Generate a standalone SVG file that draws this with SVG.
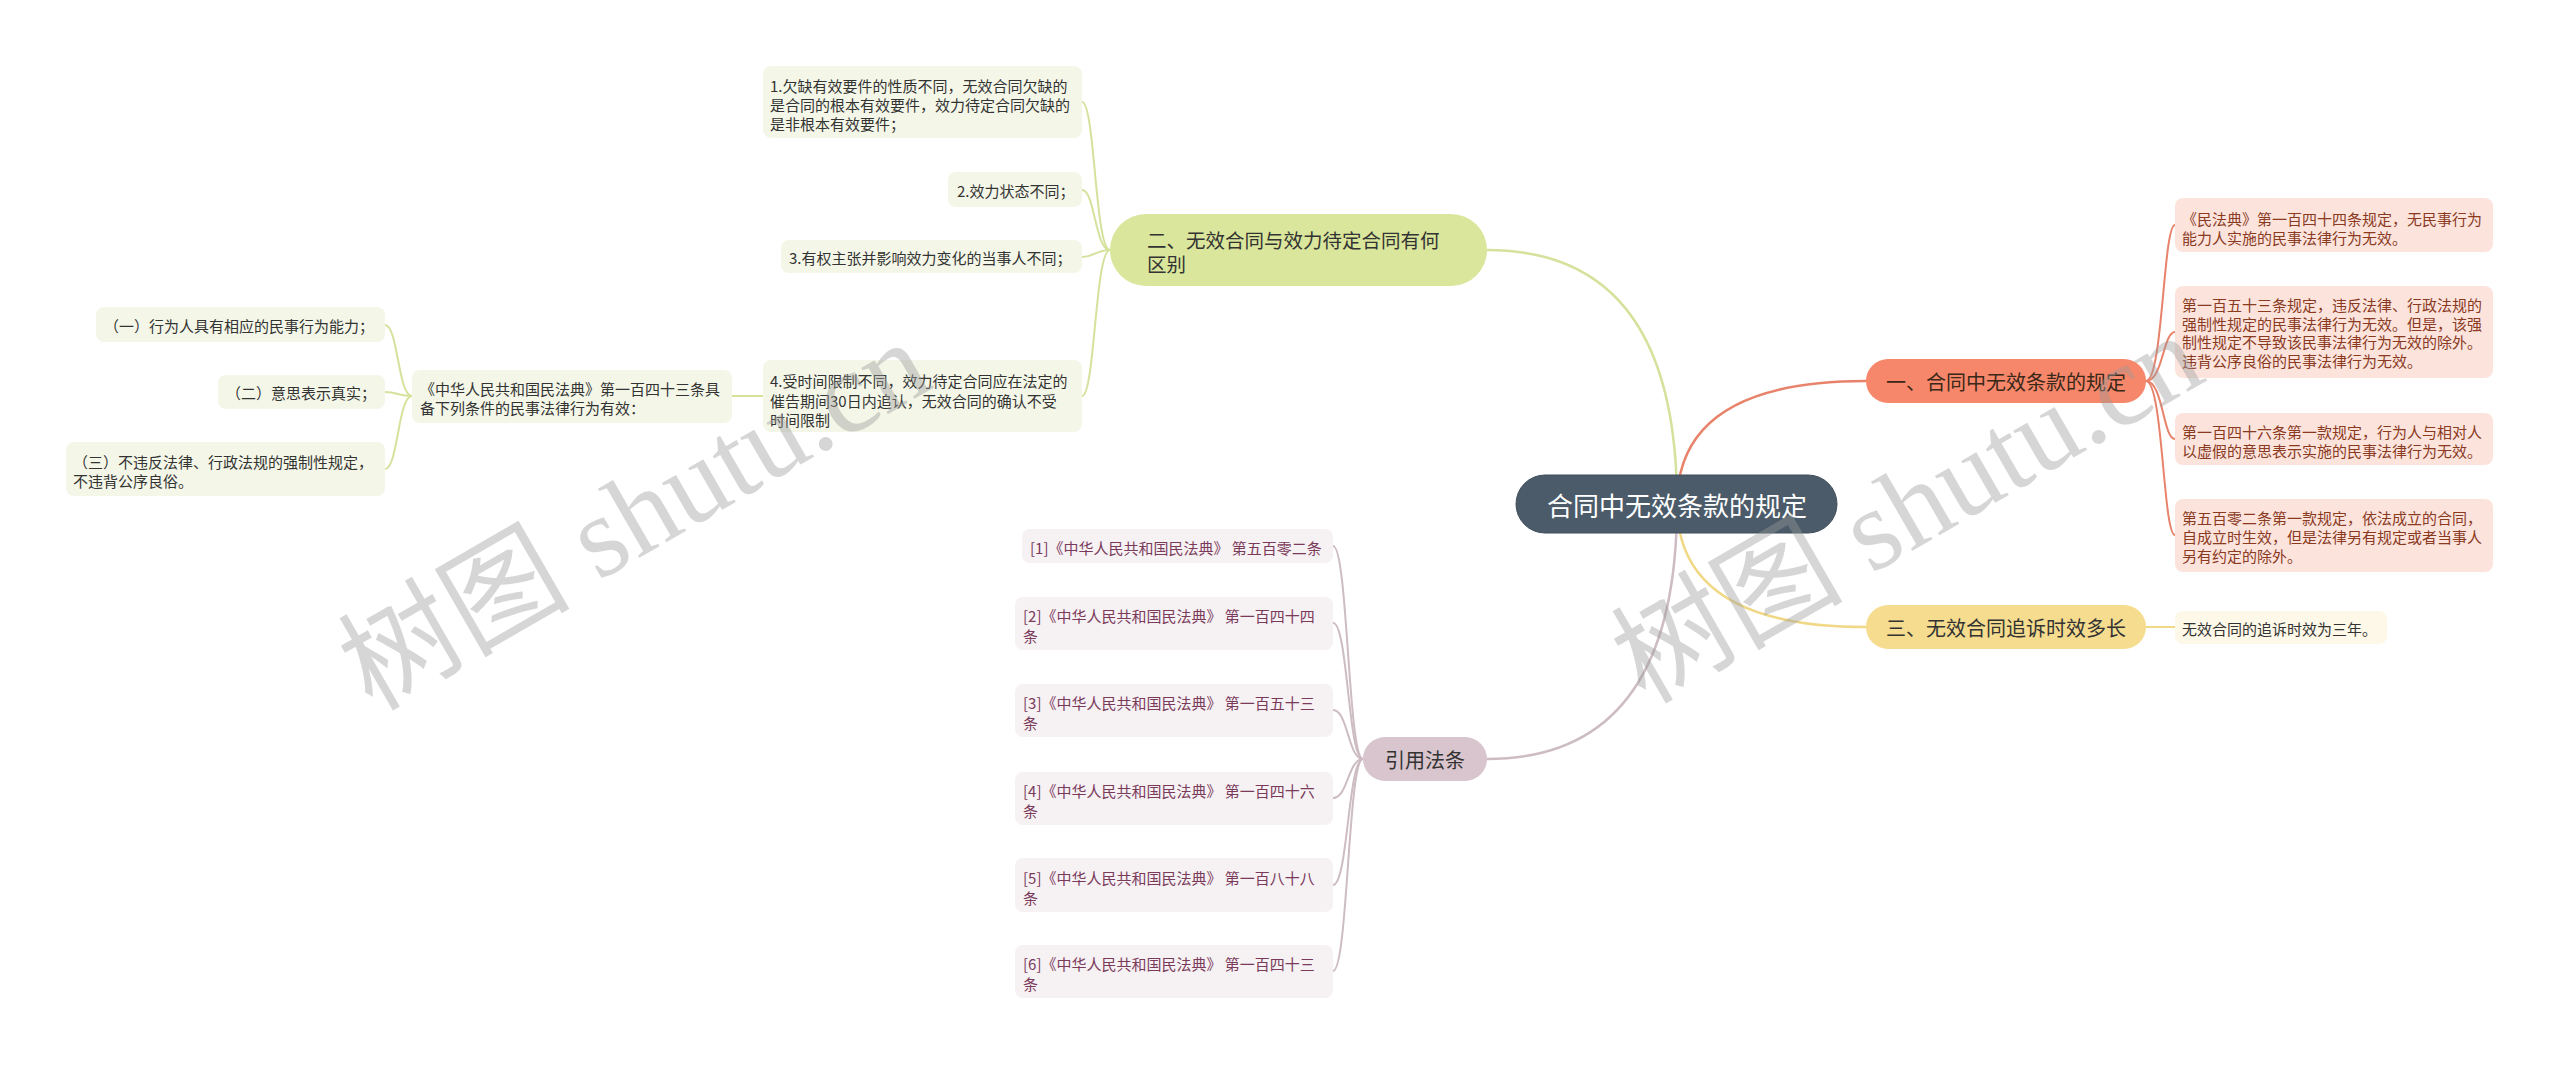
<svg xmlns="http://www.w3.org/2000/svg" width="2560" height="1065" viewBox="0 0 2560 1065">
<style>
text{font-family:"Noto Sans CJK SC","Liberation Sans",sans-serif;dominant-baseline:central}
.c{fill:none;stroke-linecap:round}
.cm{stroke-width:2.5}
.cs{stroke-width:2}
.o{stroke:#e8836b}
.g{stroke:#d4e29c}
.y{stroke:#f0d887}
.p{stroke:#cdbcc3}
.t15{font-size:15px}
.gb{fill:#f4f7e8}
.gt{fill:#333333}
.rb{fill:#fce4dd}
.rt{fill:#8a3a1f}
.pb{fill:#f6f1f3}
.pt{fill:#7a3b5b}
.yb{fill:#fdf8e7}
.wm{font-family:"Liberation Serif","Noto Sans CJK SC",serif;font-size:116px;fill:#9a9a9a;opacity:0.4;dominant-baseline:auto}
</style>
<rect width="2560" height="1065" fill="#ffffff"/>
<g id="connectors">
<path class="c cm o" d="M1677,504 Q1677,381 1866,381"/>
<path class="c cm g" d="M1677,504 Q1677,250 1487,250"/>
<path class="c cm y" d="M1677,504 Q1677,627 1866,627"/>
<path class="c cm p" d="M1677,504 Q1677,759 1487,759"/>
<path class="c cs o" d="M2146,381 C2163,381 2163,225 2175,225"/>
<path class="c cs o" d="M2146,381 C2163,381 2163,332 2175,332"/>
<path class="c cs o" d="M2146,381 C2163,381 2163,439 2175,439"/>
<path class="c cs o" d="M2146,381 C2163,381 2163,535 2175,535"/>
<path class="c cs y" d="M2146,627 L2175,627"/>
<path class="c cs g" d="M1110,250 C1095,250 1095,102 1082,102"/>
<path class="c cs g" d="M1110,250 C1095,250 1095,190 1082,190"/>
<path class="c cs g" d="M1110,250 C1095,250 1095,257 1082,257"/>
<path class="c cs g" d="M1110,250 C1095,250 1095,396 1082,396"/>
<path class="c cs g" d="M763,396 L732,396"/>
<path class="c cs g" d="M412,396 C398,396 398,325 385,325"/>
<path class="c cs g" d="M412,396 C398,396 398,392 385,392"/>
<path class="c cs g" d="M412,396 C398,396 398,469 385,469"/>
<path class="c cs p" d="M1363,759 C1348,759 1348,546 1333,546"/>
<path class="c cs p" d="M1363,759 C1348,759 1348,623 1333,623"/>
<path class="c cs p" d="M1363,759 C1348,759 1348,710 1333,710"/>
<path class="c cs p" d="M1363,759 C1348,759 1348,798 1333,798"/>
<path class="c cs p" d="M1363,759 C1348,759 1348,885 1333,885"/>
<path class="c cs p" d="M1363,759 C1348,759 1348,971 1333,971"/>
</g>
<g id="root">
<rect x="1516" y="475" width="321" height="58" rx="29" fill="#4b5b69" stroke="#3f4e5b" stroke-width="1"/>
<text x="1677" y="504" font-size="26" fill="#ffffff" text-anchor="middle">合同中无效条款的规定</text>
</g>
<g id="n1">
<rect x="1866" y="359" width="280" height="44" rx="22" fill="#f7876b"/>
<text x="2006" y="381" font-size="20" fill="#3a2818" text-anchor="middle">一、合同中无效条款的规定</text>
</g>
<g id="n1c1">
<rect class="rb" x="2175" y="198" width="318" height="54" rx="8"/>
<text class="t15 rt" x="2182"><tspan x="2182" y="218">《民法典》第一百四十四条规定，无民事行为</tspan><tspan x="2182" y="237">能力人实施的民事法律行为无效。</tspan></text>
</g>
<g id="n1c2">
<rect class="rb" x="2175" y="286" width="318" height="92" rx="8"/>
<text class="t15 rt"><tspan x="2182" y="304">第一百五十三条规定，违反法律、行政法规的</tspan><tspan x="2182" y="322.5">强制性规定的民事法律行为无效。但是，该强</tspan><tspan x="2182" y="341">制性规定不导致该民事法律行为无效的除外。</tspan><tspan x="2182" y="359.5">违背公序良俗的民事法律行为无效。</tspan></text>
</g>
<g id="n1c3">
<rect class="rb" x="2175" y="413" width="318" height="52" rx="8"/>
<text class="t15 rt"><tspan x="2182" y="431">第一百四十六条第一款规定，行为人与相对人</tspan><tspan x="2182" y="449.5">以虚假的意思表示实施的民事法律行为无效。</tspan></text>
</g>
<g id="n1c4">
<rect class="rb" x="2175" y="499" width="318" height="73" rx="8"/>
<text class="t15 rt"><tspan x="2182" y="517">第五百零二条第一款规定，依法成立的合同，</tspan><tspan x="2182" y="536">自成立时生效，但是法律另有规定或者当事人</tspan><tspan x="2182" y="554.5">另有约定的除外。</tspan></text>
</g>
<g id="n3">
<rect x="1866" y="605" width="280" height="44" rx="22" fill="#f6dc8e"/>
<text x="2006" y="627" font-size="20" fill="#333333" text-anchor="middle">三、无效合同追诉时效多长</text>
</g>
<g id="n3c1">
<rect class="yb" x="2175" y="611" width="212" height="33" rx="8"/>
<text class="t15 gt" x="2182" y="628">无效合同的追诉时效为三年。</text>
</g>
<g id="n2">
<rect x="1110" y="214" width="377" height="72" rx="36" fill="#d9e69b"/>
<text font-size="19.5" fill="#333333"><tspan x="1147" y="238.5">二、无效合同与效力待定合同有何</tspan><tspan x="1147" y="263">区别</tspan></text>
</g>
<g id="n2c1">
<rect class="gb" x="763" y="66" width="319" height="72" rx="8"/>
<text class="t15 gt"><tspan x="770" y="85">1.欠缺有效要件的性质不同，无效合同欠缺的</tspan><tspan x="770" y="104">是合同的根本有效要件，效力待定合同欠缺的</tspan><tspan x="770" y="123">是非根本有效要件；</tspan></text>
</g>
<g id="n2c2">
<rect class="gb" x="948" y="172" width="134" height="35" rx="8"/>
<text class="t15 gt" x="957" y="190">2.效力状态不同；</text>
</g>
<g id="n2c3">
<rect class="gb" x="781" y="240" width="301" height="33" rx="8"/>
<text class="t15 gt" x="789" y="257">3.有权主张并影响效力变化的当事人不同；</text>
</g>
<g id="n2c4">
<rect class="gb" x="763" y="360" width="319" height="72" rx="8"/>
<text class="t15 gt"><tspan x="770" y="380">4.受时间限制不同，效力待定合同应在法定的</tspan><tspan x="770" y="400">催告期间30日内追认，无效合同的确认不受</tspan><tspan x="770" y="419">时间限制</tspan></text>
</g>
<g id="n2c4a">
<rect class="gb" x="412" y="370" width="320" height="53" rx="8"/>
<text class="t15 gt"><tspan x="420" y="388">《中华人民共和国民法典》第一百四十三条具</tspan><tspan x="420" y="407">备下列条件的民事法律行为有效：</tspan></text>
</g>
<g id="n2c4a1">
<rect class="gb" x="96" y="307" width="289" height="35" rx="8"/>
<text class="t15 gt" x="104" y="325">（一）行为人具有相应的民事行为能力；</text>
</g>
<g id="n2c4a2">
<rect class="gb" x="218" y="375" width="167" height="34" rx="8"/>
<text class="t15 gt" x="226" y="392">（二）意思表示真实；</text>
</g>
<g id="n2c4a3">
<rect class="gb" x="66" y="442" width="319" height="54" rx="8"/>
<text class="t15 gt"><tspan x="73" y="461">（三）不违反法律、行政法规的强制性规定，</tspan><tspan x="73" y="480">不违背公序良俗。</tspan></text>
</g>
<g id="n4">
<rect x="1363" y="737" width="124" height="44" rx="22" fill="#d9c5cd"/>
<text x="1425" y="759" font-size="20" fill="#333333" text-anchor="middle">引用法条</text>
</g>
<g id="r1">
<rect class="pb" x="1022" y="529" width="311" height="34" rx="8"/>
<text class="t15 pt" x="1030" y="547">[1]《中华人民共和国民法典》 第五百零二条</text>
</g>
<g id="r2">
<rect class="pb" x="1015" y="597" width="318" height="53" rx="8"/>
<text class="t15 pt"><tspan x="1023" y="615">[2]《中华人民共和国民法典》 第一百四十四</tspan><tspan x="1023" y="635">条</tspan></text>
</g>
<g id="r3">
<rect class="pb" x="1015" y="684" width="318" height="53" rx="8"/>
<text class="t15 pt"><tspan x="1023" y="702">[3]《中华人民共和国民法典》 第一百五十三</tspan><tspan x="1023" y="722">条</tspan></text>
</g>
<g id="r4">
<rect class="pb" x="1015" y="772" width="318" height="53" rx="8"/>
<text class="t15 pt"><tspan x="1023" y="790">[4]《中华人民共和国民法典》 第一百四十六</tspan><tspan x="1023" y="810">条</tspan></text>
</g>
<g id="r5">
<rect class="pb" x="1015" y="858" width="318" height="54" rx="8"/>
<text class="t15 pt"><tspan x="1023" y="877">[5]《中华人民共和国民法典》 第一百八十八</tspan><tspan x="1023" y="897">条</tspan></text>
</g>
<g id="r6">
<rect class="pb" x="1015" y="945" width="318" height="53" rx="8"/>
<text class="t15 pt"><tspan x="1023" y="963">[6]《中华人民共和国民法典》 第一百四十三</tspan><tspan x="1023" y="983">条</tspan></text>
</g>
<g id="watermarks">
<text class="wm" transform="translate(372,712) rotate(-30)">树图 shutu.cn</text>
<text class="wm" transform="translate(1645,705) rotate(-30)">树图 shutu.cn</text>
</g>
</svg>
